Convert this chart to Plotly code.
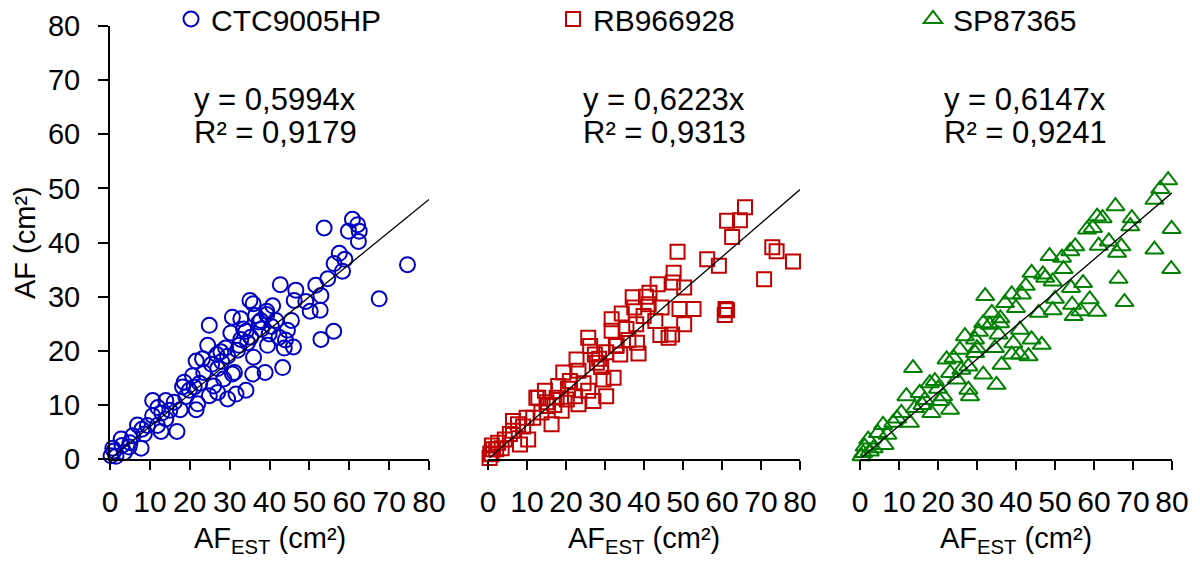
import plotly.graph_objects as go

# ---------------- data ----------------
names = ["CTC9005HP", "RB966928", "SP87365"]
slopes = [0.5994, 0.6223, 0.6147]
r2 = ["0,9179", "0,9313", "0,9241"]
eq = ["0,5994", "0,6223", "0,6147"]

ctc_x = [60.8, 62.1, 59.8, 62.5, 62.3, 53.7, 74.6, 67.5, 57.5, 58.9, 56.2, 58.3, 54.6,
         51.6, 52.9, 49.1, 46.6, 46.2, 50.2, 52.7, 42.7, 35.1, 35.9, 40.8, 39.3, 39.3,
         37.8, 30.7, 32.8, 41.6, 45.5, 44.5, 42.4, 39.9, 37.4, 24.9, 30.3, 34.1, 32.8,
         35.3, 52.9, 56.1, 24.5, 27.8, 26.8, 32.0, 32.4, 39.5, 43.7, 46.0, 36.0, 21.6,
         23.2, 27.0, 28.5, 31.2, 30.7, 35.8, 38.9, 43.3, 20.7, 18.6, 18.2, 19.9, 21.1,
         24.9, 27.0, 29.5, 31.6, 34.1, 22.0, 21.6, 17.6, 14.0, 10.7, 16.1, 10.7, 14.0,
         11.9, 12.8, 16.8, 9.4, 6.9, 8.6, 5.7, 2.8, 7.8, 4.8, 0.7, 0.25, 1.5, 3.6,
         25.5, 28.0, 33.5, 29.0, 23.5, 15.0, 12.0, 36.5, 40.5, 44.0, 26.0, 3.0, 1.0,
         19.0, 22.5, 13.0, 8.0, 5.0, 29.5, 34.5, 38.0]
ctc_y = [44.3, 43.3, 42.1, 42.1, 40.2, 42.7, 35.9, 29.6, 38.0, 36.9, 36.1, 34.7, 33.3,
         32.1, 30.2, 29.1, 31.2, 29.3, 27.3, 27.5, 32.2, 29.3, 28.7, 28.3, 27.3, 26.7,
         25.6, 26.2, 25.9, 25.6, 25.6, 23.8, 22.5, 23.1, 25.3, 24.7, 23.3, 23.6, 22.1,
         22.5, 22.1, 23.6, 21.0, 19.8, 19.3, 20.1, 21.0, 21.0, 20.5, 20.7, 18.8, 18.1,
         18.5, 16.7, 14.8, 16.0, 15.7, 15.7, 16.0, 16.9, 15.4, 14.2, 13.3, 12.7, 13.3,
         11.7, 12.3, 11.1, 12.0, 12.7, 10.2, 9.1, 9.1, 10.8, 10.8, 10.5, 8.0, 7.4,
         6.2, 5.1, 5.1, 6.2, 6.3, 4.6, 4.3, 3.7, 2.0, 2.2, 2.0, 0.6, 0.5, 1.2,
         17.5, 18.0, 24.0, 20.5, 16.0, 9.0, 9.5, 26.5, 24.5, 22.0, 13.5, 2.5, 1.5,
         11.5, 14.0, 8.5, 5.5, 3.0, 19.0, 21.5, 24.0]

rb_x = [65.9, 61.3, 64.6, 62.6, 48.6, 56.2, 59.2, 72.9, 74.0, 78.2, 70.8, 60.9, 61.3,
        60.7, 47.6, 47.4, 50.3, 43.5, 41.4, 41.2, 37.1, 37.5, 34.3, 31.7, 38.0, 39.9,
        42.9, 49.1, 52.7, 50.3, 47.2, 44.2, 46.3, 31.7, 32.8, 38.2, 38.6, 33.9, 30.3,
        25.7, 26.2, 22.7, 23.2, 19.3, 27.4, 27.9, 29.6, 32.2, 30.3, 27.0, 23.2, 25.7,
        21.0, 17.6, 14.6, 12.9, 18.9, 16.3, 13.7, 12.4, 9.9, 7.7, 6.4, 5.6, 10.3,
        8.2, 2.6, 2.1, 0.9, 0.4, 1.3, 22.3, 20.2, 15.4, 11.6, 6.4, 4.3,
        35.5, 40.5, 44.5, 29.0, 24.5, 36.0, 20.5, 17.0, 1.0, 0.6,
        33.0, 28.5, 18.0, 15.0, 9.0, 3.5]
rb_y = [46.5, 44.0, 44.1, 41.0, 38.3, 36.9, 35.7, 39.1, 38.4, 36.5, 33.2, 27.7, 27.5,
        26.6, 34.4, 32.6, 31.7, 32.3, 30.7, 28.6, 29.9, 28.0, 26.9, 25.8, 24.9, 26.4,
        25.5, 27.7, 27.7, 24.9, 23.0, 22.9, 22.4, 23.7, 20.9, 21.5, 19.5, 19.3, 19.7,
        22.4, 20.9, 18.4, 16.3, 16.0, 19.3, 17.8, 14.7, 15.0, 11.6, 10.7, 10.1, 12.6,
        14.4, 11.3, 12.6, 11.3, 8.9, 6.4, 8.6, 11.3, 7.6, 6.4, 7.0, 4.6, 3.6,
        2.7, 3.0, 1.8, 0.9, 0.2, 1.8, 11.6, 11.0, 9.8, 7.6, 5.2, 3.6,
        24.0, 30.0, 28.0, 17.0, 14.0, 22.0, 13.0, 10.0, 2.5, 1.0,
        21.0, 18.5, 13.5, 10.5, 6.0, 2.0]

sp_x = [79.0, 77.0, 75.5, 79.9, 75.5, 79.8, 65.5, 69.7, 69.3, 62.2, 60.8, 58.2, 59.7,
        61.2, 63.8, 67.0, 65.9, 53.9, 55.2, 48.6, 51.8, 52.2, 44.0, 46.9, 49.4, 57.2,
        54.1, 58.9, 66.3, 67.8, 50.0, 54.4, 56.5, 60.8, 45.8, 49.4, 54.8, 32.1, 38.9,
        41.5, 37.2, 40.0, 33.8, 31.6, 35.9, 41.0, 44.0, 46.6, 39.3, 26.9, 29.5, 34.6,
        36.3, 38.9, 41.0, 43.2, 35.0, 31.6, 27.8, 24.0, 22.2, 13.6, 17.9, 19.2, 23.1,
        24.8, 27.8, 28.2, 20.5, 23.1, 18.3, 11.9, 15.3, 14.1, 10.6, 12.8, 8.5, 5.9,
        4.6, 2.1, 1.2, 0.8, 2.5, 6.3, 29.5, 33.3, 25.6, 16.6, 21.3,
        42.5, 47.5, 36.0, 30.5, 9.5, 3.5, 0.4,
        35.5, 30.0, 26.0, 20.0, 16.0, 7.0]
sp_y = [51.5, 49.9, 47.9, 42.5, 38.7, 35.1, 46.7, 44.5, 43.0, 44.5, 44.8, 42.4, 42.7,
        39.4, 40.2, 39.3, 38.1, 38.4, 39.3, 37.5, 37.2, 35.1, 34.4, 34.1, 32.8, 32.5,
        31.6, 29.5, 33.3, 29.0, 29.6, 28.5, 27.3, 27.2, 27.0, 27.5, 26.4, 30.1, 30.4,
        30.4, 28.8, 27.9, 27.0, 25.1, 25.1, 23.9, 22.1, 21.1, 21.4, 22.7, 22.1, 20.5,
        17.4, 19.3, 19.3, 19.0, 13.7, 15.6, 17.1, 18.7, 18.4, 16.8, 14.0, 14.4, 15.9,
        14.7, 12.8, 11.6, 10.7, 9.1, 8.5, 11.6, 12.2, 9.4, 8.5, 6.7, 6.7, 6.3,
        4.8, 3.6, 2.3, 1.1, 1.4, 2.6, 19.6, 24.8, 20.2, 10.9, 11.6,
        32.0, 33.5, 26.0, 23.5, 7.5, 2.0, 0.5,
        23.0, 20.5, 16.5, 13.0, 10.0, 4.5]

series_x = [ctc_x, rb_x, sp_x]
series_y = [ctc_y, rb_y, sp_y]
ticks = [0, 10, 20, 30, 40, 50, 60, 70, 80]

# ---------------- styling ----------------
W, H = 1200, 562
FONT = "Liberation Sans, Arial, sans-serif"
colors = ["#0000C0", "#C00000", "#008000"]
symbols = ["circle-open", "square-open", "triangle-up-open"]
msizes = [15, 14, 16]
px_left = [110, 488, 860]
px_right = [429, 800, 1172]
px_top, px_bottom = 26, 459
legend_px = [171, 553, 913]

def px2x(p):
    return p / W

def px2y(p):
    return 1 - p / H

fig = go.Figure()
legkeys = ["legend", "legend2", "legend3"]
for i in range(3):
    xa = "x" if i == 0 else f"x{i+1}"
    ya = "y" if i == 0 else f"y{i+1}"
    fig.add_trace(go.Scatter(
        x=series_x[i], y=series_y[i], mode="markers", name=names[i],
        xaxis=xa, yaxis=ya, cliponaxis=False, legend=legkeys[i],
        marker=dict(symbol=symbols[i], size=msizes[i], color=colors[i],
                    line=dict(width=2, color=colors[i]))))
    x0 = min(series_x[i])
    fig.add_trace(go.Scatter(
        x=[x0, 80], y=[slopes[i] * x0, slopes[i] * 80], mode="lines",
        xaxis=xa, yaxis=ya, showlegend=False, cliponaxis=False,
        line=dict(color="black", width=1.3)))

layout = dict(
    width=W, height=H, margin=dict(l=0, r=0, t=0, b=0, pad=0, autoexpand=False),
    paper_bgcolor="white", plot_bgcolor="white",
    font=dict(family=FONT, size=29, color="black"),
)
for i in range(3):
    xk = "xaxis" if i == 0 else f"xaxis{i+1}"
    yk = "yaxis" if i == 0 else f"yaxis{i+1}"
    ya = "y" if i == 0 else f"y{i+1}"
    xa = "x" if i == 0 else f"x{i+1}"
    layout[xk] = dict(
        domain=[px2x(px_left[i]), px2x(px_right[i])], anchor=ya,
        range=[0, 80], tickvals=ticks, ticktext=[str(t) for t in ticks],
        showline=True, linecolor="black", linewidth=2, mirror=False,
        ticks="outside", ticklen=9, tickwidth=2, tickcolor="black",
        showgrid=False, zeroline=False, ticklabelstandoff=6, automargin=False,
        tickfont=dict(family=FONT, size=30, color="black"))
    layout[yk] = dict(
        domain=[px2y(px_bottom), px2y(px_top)], anchor=xa,
        range=[0, 80], tickvals=ticks, ticktext=[str(t) for t in ticks],
        showline=(i == 0), linecolor="black", linewidth=2,
        ticks="outside" if i == 0 else "", ticklen=10, tickwidth=2, tickcolor="black",
        showticklabels=(i == 0), showgrid=False, zeroline=False,
        ticklabelstandoff=12, automargin=False,
        tickfont=dict(family=FONT, size=29, color="black"))
    layout[legkeys[i]] = dict(
        x=px2x(legend_px[i]), y=1 + 7 / H, xanchor="left", yanchor="top",
        bgcolor="rgba(0,0,0,0)", borderwidth=0,
        font=dict(family=FONT, size=30, color="black"))

fig.update_layout(**layout)

ann = []
for i in range(3):
    cx = (px_left[i] + px_right[i]) / 2
    ecx = [275, 664, 1025][i]
    ann.append(dict(x=px2x(ecx), y=px2y(99), xref="paper", yref="paper",
                    text=f"y = {eq[i]}x", showarrow=False,
                    font=dict(family=FONT, size=31, color="black"),
                    xanchor="center", yanchor="middle"))
    ann.append(dict(x=px2x(ecx), y=px2y(133), xref="paper", yref="paper",
                    text=f"R² = {r2[i]}", showarrow=False,
                    font=dict(family=FONT, size=31, color="black"),
                    xanchor="center", yanchor="middle"))
    ann.append(dict(x=px2x(cx), y=px2y(540), xref="paper", yref="paper",
                    text="AF<sub>EST</sub> (cm²)", showarrow=False,
                    font=dict(family=FONT, size=29, color="black"),
                    xanchor="center", yanchor="middle"))
ann.append(dict(x=px2x(25), y=px2y(243), xref="paper", yref="paper",
                text="AF (cm²)", showarrow=False, textangle=-90,
                font=dict(family=FONT, size=29, color="black"),
                xanchor="center", yanchor="middle"))
fig.update_layout(annotations=ann)

fig.write_html("out.html")
